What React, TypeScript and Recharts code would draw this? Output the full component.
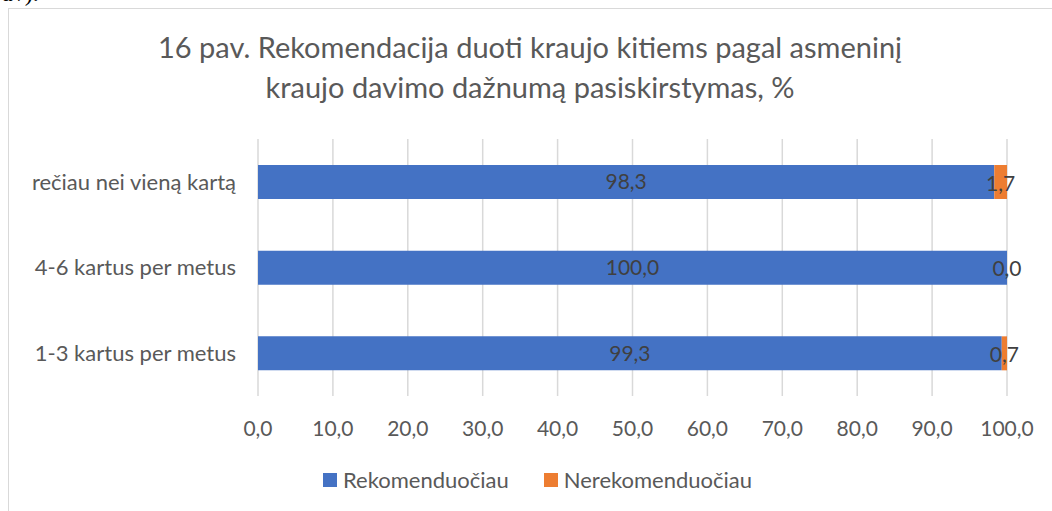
import { BarChart, Bar, XAxis, YAxis, CartesianGrid, LabelList } from "recharts";

const categories = ["rečiau nei vieną kartą", "4-6 kartus per metus", "1-3 kartus per metus"];
const rekomenduociau = [98.3, 100.0, 99.3];
const nerekomenduociau = [1.7, 0.0, 0.7];
const xTicks = [0, 10, 20, 30, 40, 50, 60, 70, 80, 90, 100];

const FONT = "Lato, 'Open Sans', sans-serif";
const TEXT = "#595959";
const LABEL = "#404040";
const BLUE = "#4472C4";
const ORANGE = "#ED7D31";

const data = categories.map((cat, i) => ({
  cat,
  rek: rekomenduociau[i],
  nerek: nerekomenduociau[i],
}));

const fmt = (v: number) => v.toFixed(1).replace(".", ",");

// label of the orange segment, placed at the middle of that segment
// (drawn from the blue bar so the 0,0 segment still gets its label)
const NerekLabel = (props: any) => {
  const { x, y, width, height, index } = props;
  const rek = rekomenduociau[index];
  const nerek = nerekomenduociau[index];
  const segW = rek ? (width * nerek) / rek : 0;
  return (
    <text x={x + width + segW / 2} y={y + height / 2} textAnchor="middle" dominantBaseline="central" fill={LABEL} fontSize={21} fontFamily={FONT}>
      {fmt(nerek)}
    </text>
  );
};

const legendItems = [
  { name: "Rekomenduočiau", color: BLUE },
  { name: "Nerekomenduočiau", color: ORANGE },
];

export default function App() {
  return (
    <div style={{ position: "absolute", left: 0, top: 0, width: 1052, height: 511, overflow: "hidden", background: "#fff", fontFamily: FONT }}>
      <div style={{ position: "absolute", left: 2, top: -20, fontFamily: "'Liberation Serif', serif", fontSize: 24, color: "#000" }}>av).</div>
      <div style={{ position: "absolute", left: 8, top: 8, width: 1100, height: 600, borderLeft: "1px solid #d9d9d9", borderTop: "1px solid #d9d9d9" }} />
      <div style={{ position: "absolute", left: 8, top: 27, width: 1044, textAlign: "center", fontSize: 29, lineHeight: "40px", color: TEXT }}>
        16 pav. Rekomendacija duoti kraujo kitiems pagal asmeninį
        <br />
        kraujo davimo dažnumą pasiskirstymas, %
      </div>
      <div style={{ position: "absolute", left: 0, top: 0 }}>
        <BarChart width={1052} height={511} data={data} layout="vertical" margin={{ top: 139, right: 45, bottom: 85, left: 0 }} barSize={34}>
          <CartesianGrid horizontal={false} stroke="#d9d9d9" strokeWidth={1.5} />
          <XAxis
            type="number"
            domain={[0, 100]}
            ticks={xTicks}
            tickFormatter={fmt}
            axisLine={false}
            tickLine={false}
            tickSize={0}
            tickMargin={25}
            interval={0}
            height={30}
            tick={{ fill: TEXT, fontSize: 21, fontFamily: FONT }}
          />
          <YAxis
            type="category"
            dataKey="cat"
            width={258}
            axisLine={false}
            tickLine={false}
            tickSize={0}
            tickMargin={22}
            tick={{ fill: TEXT, fontSize: 22, fontFamily: FONT }}
          />
          <Bar dataKey="rek" name="Rekomenduočiau" stackId="a" fill={BLUE} isAnimationActive={false}>
            <LabelList dataKey="rek" position="center" formatter={(v: number) => fmt(v)} fill={LABEL} fontSize={21} fontFamily={FONT} />
            <LabelList dataKey="nerek" content={NerekLabel} />
          </Bar>
          <Bar dataKey="nerek" name="Nerekomenduočiau" stackId="a" fill={ORANGE} isAnimationActive={false} />
        </BarChart>
      </div>
      <div style={{ position: "absolute", left: 323, top: 466, display: "flex", alignItems: "center", fontSize: 22, color: TEXT, whiteSpace: "nowrap" }}>
        {legendItems.map((it) => (
          <div key={it.name} style={{ display: "flex", alignItems: "center", marginRight: 35 }}>
            <span style={{ display: "inline-block", width: 14, height: 14, background: it.color, marginRight: 6 }} />
            <span>{it.name}</span>
          </div>
        ))}
      </div>
    </div>
  );
}
